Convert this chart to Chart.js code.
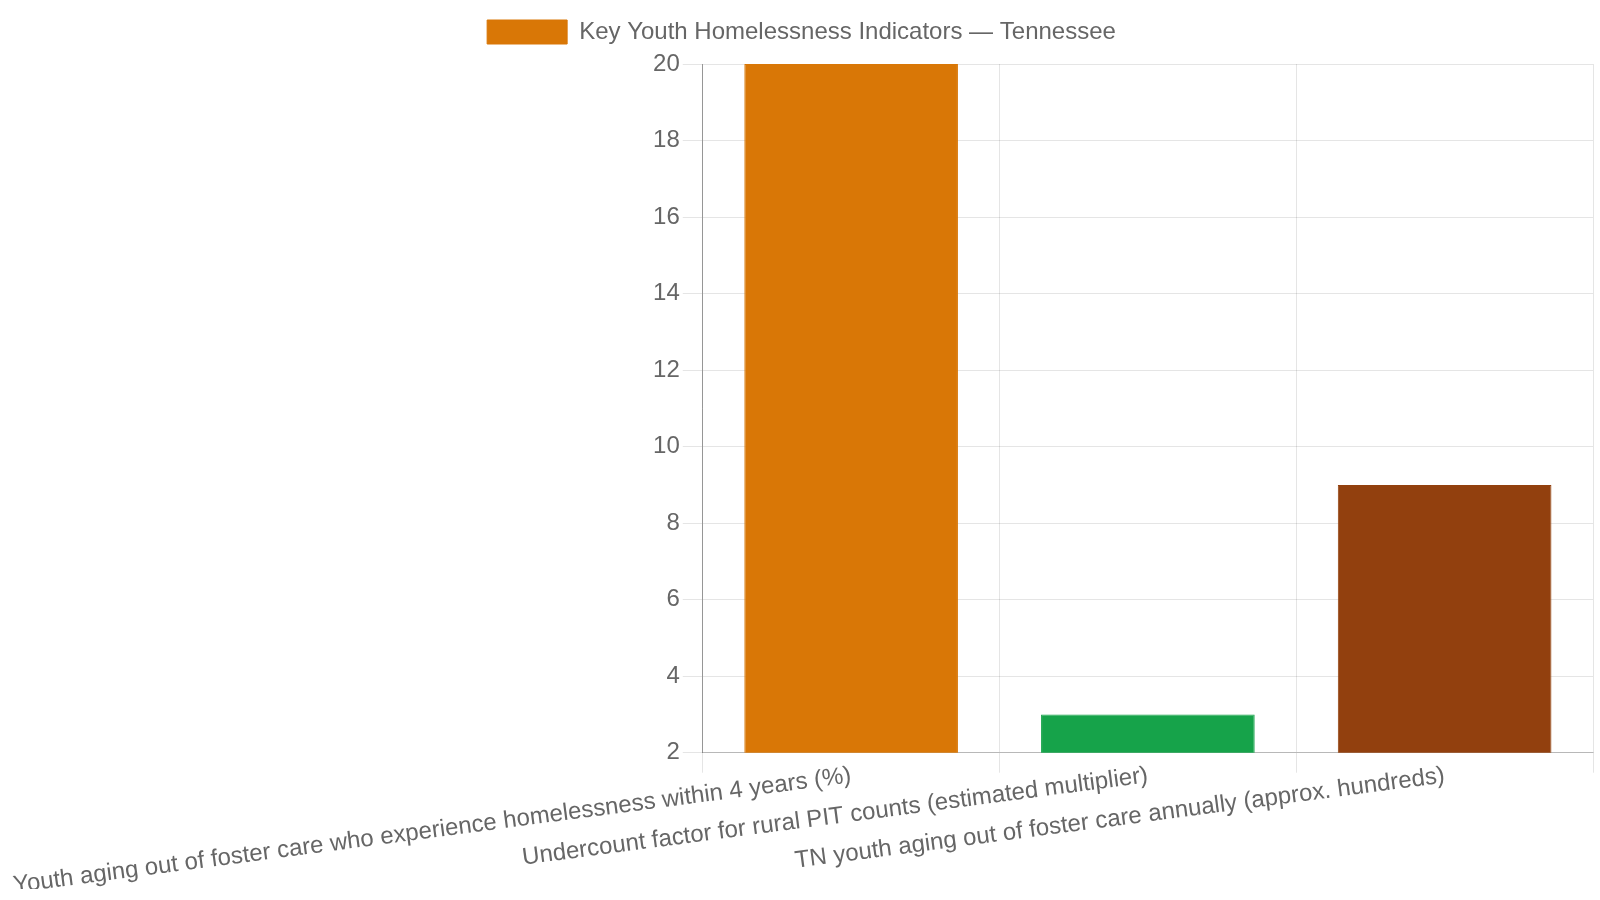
<!DOCTYPE html>
<html>
<head>
<meta charset="utf-8">
<script src="https://cdn.jsdelivr.net/npm/chart.js@4"></script>
<style>
    html, body { margin: 0; padding: 0; background: #fff; }
    #wrap { width: 1600px; height: 900px; }
</style>
</head>
<body>
<div id="wrap"><canvas id="barChart"></canvas></div>
<script>
// =====================
// DATOS
// =====================
const categorias = [
    "Youth aging out of foster care who experience homelessness within 4 years (%)",
    "Undercount factor for rural PIT counts (estimated multiplier)",
    "TN youth aging out of foster care annually (approx. hundreds)"
];
const valores = [20, 3, 9];
const colores = ["#d97706", "#16a34a", "#92400e"];
const serie = "Key Youth Homelessness Indicators — Tennessee";

// =====================
// BAR CHART
// =====================
Chart.defaults.font.family = "'Liberation Sans', Arial, sans-serif";
Chart.defaults.font.size = 24;
Chart.defaults.color = "#666";

// un poco mas de aire debajo de la leyenda
const legendGap = {
    id: "legendGap",
    beforeInit(chart) {
        const fit = chart.legend.fit;
        chart.legend.fit = function () {
            fit.call(this);
            this.height += 10;
        };
    }
};

new Chart(document.getElementById("barChart"), {
    type: "bar",
    data: {
        labels: categorias,
        datasets: [{
            label: serie,
            data: valores,
            backgroundColor: colores,
            borderColor: colores,
            borderWidth: 1
        }]
    },
    options: {
        responsive: true,
        maintainAspectRatio: false,
        animation: false,
        layout: { padding: { top: 10, left: 10, right: 7, bottom: 11 } },
        plugins: {
            legend: {
                labels: { boxWidth: 80 }
            }
        },
        scales: {
            x: {
                grid: { tickLength: 20 },
                border: { color: "rgba(0,0,0,0.2)" },
                ticks: {
                    minRotation: 7.5,
                    maxRotation: 7.5,
                    font: { size: 24, lineHeight: 0 } // etiquetas pegadas al eje
                }
            },
            y: {
                min: 2,
                max: 20,
                grid: { tickLength: 20 },
                border: { color: "rgba(0,0,0,0.35)" },
                ticks: { stepSize: 2 }
            }
        }
    },
    plugins: [legendGap]
});
</script>
</body>
</html>
